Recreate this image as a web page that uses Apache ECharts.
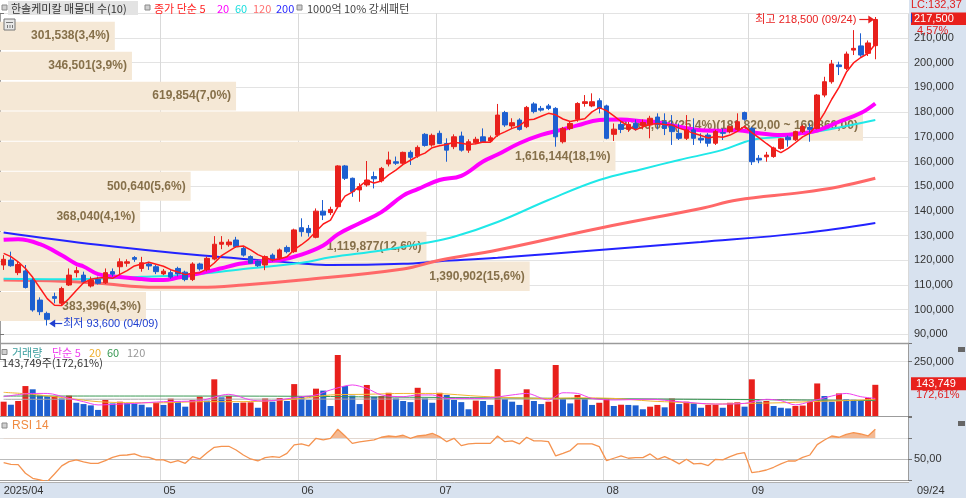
<!DOCTYPE html>
<html><head><meta charset="utf-8">
<script src="https://cdn.jsdelivr.net/npm/echarts@6/dist/echarts.min.js"></script>
<style>html,body{margin:0;padding:0;background:#fff;overflow:hidden}#c{width:966px;height:498px}</style>
</head><body><div id="c"></div>
<script>
// ---------------- DATA ----------------
const yearText = '2025';
const dates = ['04/01','04/02','04/03','04/04','04/07','04/08','04/09','04/10','04/11','04/14','04/15','04/16','04/17','04/18','04/21','04/22','04/23','04/24','04/25','04/28','04/29','04/30',
'05/02','05/07','05/08','05/09','05/12','05/13','05/14','05/15','05/16','05/19','05/20','05/21','05/22','05/23','05/26','05/27','05/28','05/29','05/30',
'06/02','06/04','06/05','06/09','06/10','06/11','06/12','06/13','06/16','06/17','06/18','06/19','06/20','06/23','06/24','06/25','06/26','06/27','06/30',
'07/01','07/02','07/03','07/04','07/07','07/08','07/09','07/10','07/11','07/14','07/15','07/16','07/17','07/18','07/21','07/22','07/23','07/24','07/25','07/28','07/29','07/30','07/31',
'08/01','08/04','08/05','08/06','08/07','08/08','08/11','08/12','08/13','08/14','08/18','08/19','08/20','08/21','08/22','08/25','08/26','08/27','08/28','08/29',
'09/01','09/02','09/03','09/04','09/05','09/08','09/09','09/10','09/11','09/12','09/15','09/16','09/17','09/18','09/19','09/22','09/23','09/24'];
const emptySlots = ['+1','+2','+3','+4'];

const opens = [
118100,120100,115000,115700,112000,103900,98500,105300,102600,110000,
115000,114000,109600,112300,110900,115400,117400,118800,121100,116700,
118500,117400,114500,115000,116700,115200,112200,118500,116200,120500,
126500,126300,128200,124800,121500,119700,118100,122100,120800,125200,
123500,133200,132900,129300,139900,139300,141700,158200,153200,148500,
150500,153900,152200,159000,159900,159300,163700,162200,171000,166700,
171400,167300,166000,170300,164600,167600,170000,168300,170700,179800,
174400,176800,174100,183300,181500,182500,181500,168000,173400,177100,
183500,182500,184600,182500,171000,175000,173000,175500,174500,174800,
178000,176100,174800,171400,169400,172800,169400,170700,167400,171700,
172100,173000,179800,173400,161300,161900,162000,165300,169800,168800,
172100,173800,173400,186900,192300,199100,197700,205100,206800,203800,206900];
const highs = [
122100,123500,119400,118100,112700,105000,99200,106900,109300,116700,
117400,115400,113400,113400,116700,116700,120800,120400,121700,121400,
119400,118100,116500,116000,117400,115800,119200,119000,121500,129800,
129800,128500,129500,125500,122000,120000,122000,122800,124800,126000,
132800,137000,134300,141000,144400,141700,158500,158600,153500,151200,
160200,155900,157800,164000,162000,164000,164500,166500,171500,171300,
172500,169400,171000,172100,169000,170000,173400,170500,183300,180500,
177500,177500,182500,184000,182500,183300,182000,174000,176100,184000,
186900,187600,185600,183000,175400,176500,176000,177000,177000,178500,
179500,179500,178800,175400,178800,177500,171400,171500,172800,173400,
174500,179500,180200,174000,162600,163900,166000,169500,170500,172500,
174800,175400,187300,194300,201100,200400,204500,213200,211900,209000,218500];
const lows = [
116100,117400,114000,108600,99200,97800,93600,102600,101900,109600,
113100,110700,109000,110200,110400,113400,114000,117400,119400,115400,
116100,114400,114000,112500,113500,111500,111600,115800,115500,120000,
124500,125500,125000,121500,118500,117300,116000,119500,120300,122800,
123000,129600,129600,128900,136300,138300,141000,152500,145700,143700,
149800,149100,151500,158000,158600,158600,158600,161500,166000,166000,
167000,159900,165000,164000,163500,167000,167500,167800,170000,174000,
173400,172500,173500,179500,180200,180800,166000,167300,172700,176100,
182200,182000,179500,169000,168300,171500,172000,172500,173000,169400,
173000,170700,166700,168700,168700,166700,167400,166000,166700,168700,
171400,172500,176500,158600,159300,159900,161500,164800,166000,168300,
171500,168000,173000,186000,191500,195000,197000,203100,202400,202700,201400];
const closes = [
120400,117800,118300,109000,99900,99200,96100,104600,108600,114000,
115800,111300,112000,110700,115000,114400,119400,119400,120400,119000,
117700,115400,115600,113200,114500,112200,118500,116500,120800,126500,
127300,127400,125500,122100,118800,117800,121500,120100,124200,123500,
132300,131600,131200,139900,138300,140600,158200,153200,147800,149800,
152500,153000,157200,160600,159300,163700,161700,165700,166500,170600,
167300,164600,170000,164600,168000,169000,168000,169600,178800,174800,
175700,173000,181900,180200,180800,181500,170000,173400,175400,183500,
184200,184200,181500,169400,173100,173000,175000,173500,175800,177500,
175000,173400,172100,169400,172800,169400,168700,167400,172100,171400,
174100,176100,177100,159900,160600,162600,165500,169200,168800,172100,
174200,173000,186900,192300,199500,198400,203500,205800,203100,208000,217500];

const volumes = [
66000,52000,69000,138000,123000,95000,90000,92000,81000,94000,
61000,55000,49000,28000,74000,58000,66000,60000,57000,52000,
40000,61000,51000,80000,66000,43000,74000,89000,71000,169000,
86000,92000,60000,62000,63000,38000,81000,66000,83000,69000,
147000,89000,74000,126000,117000,46000,281000,138000,94000,55000,
143000,89000,92000,107000,81000,69000,64000,130000,81000,61000,
107000,97000,74000,64000,31000,71000,69000,51000,216000,78000,
66000,51000,123000,69000,55000,66000,235000,81000,58000,97000,
81000,51000,61000,81000,46000,52000,51000,49000,31000,43000,
51000,40000,81000,55000,66000,58000,38000,51000,52000,38000,
61000,63000,43000,169000,66000,69000,46000,38000,35000,46000,
48000,66000,150000,92000,66000,104000,77000,75000,72000,83300,143749];

const rsi14 = [
46.8,45.2,44.9,36.7,31.9,30.3,28.7,36.0,43.7,47.8,
49.4,47.5,46.2,46.2,48.7,51.9,53.8,54.1,55.1,52.5,
51.9,49.4,49.4,46.8,48.7,46.2,52.5,50.3,56.3,61.4,
62.4,62.4,58.9,54.1,50.3,48.4,51.6,52.5,51.9,55.7,
63.7,64.6,62.7,70.0,68.4,70.0,78.6,72.2,65.2,66.5,
67.5,68.4,71.0,72.2,71.6,72.9,70.0,72.2,72.9,74.8,
71.6,66.8,70.0,63.0,64.6,65.2,65.2,65.2,72.2,66.8,
67.5,64.6,71.0,67.5,67.5,66.8,53.2,55.7,58.3,64.6,
64.6,64.6,62.1,48.7,51.0,53.2,51.0,51.6,51.6,55.1,
50.0,52.5,49.4,45.6,50.0,45.6,46.2,44.0,50.0,49.4,
52.5,55.1,56.3,37.3,38.3,39.8,42.4,45.6,48.4,48.4,
51.9,54.1,64.0,68.4,72.2,71.0,73.8,75.4,74.1,72.2,78.6];
const rsiLevels = [30, 50, 70, 90];

const ma5 = [
122800,121500,119400,116700,113100,108800,104500,101800,101700,104500,
107800,110900,112300,112800,113000,112700,114300,115800,117700,118500,
119200,118400,117600,116200,115300,114200,114800,115000,116500,118900,
121900,123700,125500,125800,124200,122300,121100,120100,120500,121400,
124300,126300,128600,131700,134700,136300,141600,146000,147600,149900,
152300,151300,152100,154600,156500,158800,160500,162200,163400,165600,
166400,166900,167800,167400,166900,167200,167900,167800,170700,172000,
173400,174400,176800,177100,178300,179500,178900,177200,176200,176800,
177300,180100,181800,180600,178500,176200,174400,172800,174100,175000,
175400,175000,174800,173500,172500,171400,170500,169500,170100,169800,
170700,172200,174200,171700,169600,167300,165100,163600,165300,167600,
170000,171500,175000,179700,185200,190000,196100,199900,202100,203800,207600];
// [candle index, value] points
const ma20Pts = [[0,128300],[2,128500],[5,126500],[8,122000],[10,118500],[11,117500],[13,114400],[16,113200],[19,112400],[21,112000],[22,112000],[24,113000],[27,114700],[30,116800],[32,118300],[33,118800],[35,119400],[38,120100],[41,122300],[44,126000],[46,130500],[49,135000],[52,139500],[55,146200],[57,148800],[60,152500],[63,154200],[66,160000],[68,162800],[71,167400],[74,170800],[77,173000],[79,174600],[82,176800],[85,177000],[88,176300],[90,175900],[93,174100],[96,172700],[99,172500],[101,172700],[104,171400],[107,170700],[110,171500],[112,172500],[115,176100],[118,179600],[120,183500]];
const ma60Pts = [[0,112500],[8,112300],[19,113300],[27,114500],[33,116500],[41,119000],[45,121200],[52,124000],[58,127000],[62,129500],[68,135500],[75,144400],[82,152500],[88,157000],[93,160600],[99,164700],[103,168700],[107,170000],[112,172100],[120,176800]];
const ma120Pts = [[0,112000],[8,111500],[13,110700],[21,109100],[27,109100],[33,110000],[41,112000],[55,116500],[60,120000],[68,124200],[82,133000],[96,141000],[101,144400],[110,147500],[115,149800],[120,153200]];
const ma200Pts = [[0,131300],[13,126300],[27,122000],[37,119700],[41,118700],[45,118100],[55,118600],[60,119600],[68,121000],[82,124200],[96,127400],[110,131000],[120,135100]];

const volMa5Pts = [[0,89000],[4,104000],[6,104000],[9,81000],[11,66000],[13,51000],[16,55000],[18,58000],[22,66000],[27,71000],[31,100000],[34,74000],[36,69000],[41,89000],[43,97000],[45,120000],[48,143000],[50,127000],[52,97000],[55,89000],[57,97000],[59,97000],[61,81000],[66,81000],[70,97000],[72,104000],[75,74000],[77,107000],[79,104000],[81,81000],[84,74000],[89,77000],[93,66000],[98,55000],[102,58000],[105,77000],[107,71000],[109,51000],[111,66000],[114,92000],[116,104000],[118,89000],[120,81000]];
const volMa20Pts = [[0,109000],[4,100000],[9,81000],[13,66000],[18,61000],[22,61000],[27,66000],[32,66000],[36,69000],[41,81000],[45,97000],[50,100000],[55,104000],[59,104000],[66,90000],[75,81000],[79,84000],[84,81000],[89,69000],[93,63000],[98,55000],[102,58000],[107,61000],[111,66000],[116,71000],[120,77000]];
const volMa60Pts = [[0,92000],[20,92000],[40,91000],[50,88000],[66,84000],[90,78000],[105,75000],[120,71000]];
const volMa120Pts = [[0,77000],[60,78000],[90,78000],[120,72000]];

// volume-profile bands (매물대), top to bottom
const bandHigh = [216600,204400,192300,180200,168000,155900,143700,131600,119500,107200];
const bandLow  = [205100,193000,180600,168400,156300,144100,131900,119700,107600,95400];
const bandVol  = [301538,346501,619854,2266050,1616144,500640,368040,1119877,1390902,383396];
const bandPct  = ['3,4','3,9','7,0','25,4','18,1','5,6','4,1','12,6','15,6','4,3'];
const bandRangeText = '(181,820,00 ~ 169,860,00)';

const titleText = '한솔케미칼 매물대 수(10)';
const maLegend = [['종가 단순 5','#ff2020'],['20','#ff00ff'],['60','#19dede'],['120','#ff7070'],['200','#2a2aff']];
const patternText = '1000억 10% 강세패턴';
const volLegend = [['거래량','#3a9e9e'],['단순 5','#f040f0'],['20','#f0b030'],['60','#3a9a55'],['120','#999999']];
const lcText = 'LC:132,37';
const changeText = '4,57%';
const volRatioText = '172,61%';
const hiText = '최고 218,500 (09/24)';
const loText = '최저 93,600 (04/09)';
const rsiLegend = 'RSI 14';

// ---------------- STYLE ----------------
const RED = '#e8201c', BLUE = '#1d5fd0';
const NUM = "'Liberation Sans',Arial,sans-serif";
const NUMKR = "'Liberation Sans','Noto Sans CJK KR',sans-serif";
const KR = "'Noto Sans CJK KR','Liberation Sans',sans-serif";
const BAND_FILL = '#f5e8d6', BAND_TEXT = '#86704a';
const fmt = n => String(Math.round(n)).replace(/\B(?=(\d{3})+(?!\d))/g, ',');

const cats = dates.concat(emptySlots);
const monthStarts = [];
dates.forEach((d, i) => { if (i === 0 || d.slice(0, 2) !== dates[i - 1].slice(0, 2)) monthStarts.push(i); });
const isMonth = i => monthStarts.indexOf(i) >= 0;
const maxBand = Math.max.apply(null, bandVol);

const L = 0, R = 58;
function catAxis(gridIndex, labels, hidden) {
  return {
    type: 'category', gridIndex, data: cats, boundaryGap: true, show: !hidden,
    axisLine: { show: gridIndex === 1 || gridIndex === 2, lineStyle: { color: '#9c9c9c', width: 1 } },
    axisTick: { show: false },
    axisLabel: labels ? {
      show: true, interval: (i) => isMonth(i),
      formatter: (v, i) => i === 0 ? yearText + '/' + v.slice(0, 2) : v.slice(0, 2),
      align: 'left', color: '#333', fontSize: 11, fontFamily: NUM, margin: 5
    } : { show: false },
    splitLine: { show: true, interval: (i) => isMonth(i) && i > 0, lineStyle: { color: '#d9d9d9' } }
  };
}
const yLabelBase = { color: '#333', fontSize: 11, fontFamily: NUM, margin: 6 };

const series = [];
series.push({
  type: 'custom', name: 'bands', xAxisIndex: 1, yAxisIndex: 0, z: 1, silent: true,
  data: bandVol.map((v, i) => [v, bandHigh[i], bandLow[i]]),
  encode: { x: 0, y: [1, 2] },
  renderItem: function (params, api) {
    const i = params.dataIndex;
    const p0 = api.coord([0, bandHigh[i]]);
    const p1 = api.coord([bandVol[i], bandLow[i]]);
    const txt = fmt(bandVol[i]) + '(' + bandPct[i] + '%)' + (bandVol[i] === maxBand ? bandRangeText : '');
    return { type: 'group', children: [
      { type: 'rect', shape: { x: p0[0], y: p0[1], width: p1[0] - p0[0], height: p1[1] - p0[1] }, style: { fill: BAND_FILL } },
      { type: 'text', style: { text: txt, x: p1[0] - 5, y: (p0[1] + p1[1]) / 2, fill: BAND_TEXT,
        font: "bold 12px 'Liberation Sans',Arial,sans-serif", textAlign: 'right', align: 'right', textVerticalAlign: 'middle', verticalAlign: 'middle' } }
    ] };
  }
});
function maLine(data, color, width, z, smooth) {
  return { type: 'line', xAxisIndex: 0, yAxisIndex: 0, data, smooth: smooth, showSymbol: false, symbol: 'none', z,
    lineStyle: { color, width }, silent: true };
}
series.push(maLine(ma200Pts, '#2323ff', 2, 2, 0.4));
series.push(maLine(ma120Pts, '#ff6868', 3, 2, 0.4));
series.push(maLine(ma60Pts, '#1fe8e8', 2, 2, 0.4));
series.push(maLine(ma20Pts, '#ff00ff', 4, 3, 0.4));
series.push({
  type: 'candlestick', xAxisIndex: 0, yAxisIndex: 0, z: 4, barWidth: 5,
  data: dates.map((d, i) => [opens[i], closes[i], lows[i], highs[i]]),
  itemStyle: { color: RED, color0: BLUE, borderColor: RED, borderColor0: BLUE, borderWidth: 1 }
});
series.push(maLine(ma5, '#ff1a1a', 1.5, 5, false));
series.push({
  type: 'bar', xAxisIndex: 2, yAxisIndex: 1, data: volumes, barWidth: 6, z: 2,
  itemStyle: { color: (p) => (p.dataIndex === 0 || volumes[p.dataIndex] >= volumes[p.dataIndex - 1]) ? RED : BLUE }
});
function volLine(data, color) {
  return { type: 'line', xAxisIndex: 2, yAxisIndex: 1, data, smooth: 0.3, showSymbol: false, symbol: 'none', z: 3,
    lineStyle: { color, width: 1 }, silent: true };
}
series.push(volLine(volMa120Pts, '#a8a8a8'));
series.push(volLine(volMa60Pts, '#3a9a55'));
series.push(volLine(volMa20Pts, '#f2b530'));
series.push(volLine(volMa5Pts, '#f040f0'));
// RSI fill above 70: same values drawn in a grid whose floor is 70, so the part below is clipped
series.push({
  type: 'line', xAxisIndex: 4, yAxisIndex: 3, data: rsi14, showSymbol: false, symbol: 'none', z: 2, clip: true,
  lineStyle: { width: 0, opacity: 0 }, areaStyle: { origin: 'start', color: '#f3b288', opacity: 0.9 }, silent: true
});
series.push({
  type: 'line', xAxisIndex: 3, yAxisIndex: 2, data: rsi14, showSymbol: false, symbol: 'none', z: 3,
  lineStyle: { color: '#f5934f', width: 1.3 }, silent: true
});

const option = {
  animation: false,
  backgroundColor: '#ffffff',
  grid: [
    { left: L, right: R, top: 13.3, height: 345.8 },
    { left: L, right: R, top: 343.3, height: 72.7 },
    { left: L, right: R, top: 417.3, height: 63 },
    { left: L, right: R, top: 417.3, height: 21 }
  ],
  xAxis: [
    catAxis(0, false),
    { type: 'value', gridIndex: 0, position: 'top', min: 0, max: maxBand / 0.9504, show: false },
    catAxis(1, false),
    catAxis(2, true),
    catAxis(3, false, true)
  ],
  yAxis: [
    { type: 'value', gridIndex: 0, position: 'right', min: 80000, max: 220000, interval: 10000,
      axisLine: { show: true, lineStyle: { color: '#9c9c9c' } },
      axisTick: { show: true, length: 4, lineStyle: { color: '#777' } },
      axisLabel: Object.assign({ formatter: v => (v < 90000 || v > 210000) ? '' : fmt(v) }, yLabelBase),
      splitLine: { show: true, showMinLine: false, lineStyle: { color: '#e3e3e3' } } },
    { type: 'value', gridIndex: 1, position: 'right', min: 0, max: 335000, interval: 250000,
      axisLine: { show: true, lineStyle: { color: '#9c9c9c' } },
      axisTick: { show: true, length: 4, lineStyle: { color: '#777' } },
      axisLabel: Object.assign({ formatter: v => v === 250000 ? fmt(v) : '' }, yLabelBase),
      splitLine: { show: true, showMinLine: false, showMaxLine: false, lineStyle: { color: '#e3e3e3' } } },
    { type: 'value', gridIndex: 2, position: 'right', min: rsiLevels[0], max: rsiLevels[3], interval: 20,
      axisLine: { show: true, lineStyle: { color: '#9c9c9c' } },
      axisTick: { show: true, length: 4, lineStyle: { color: '#777' } },
      axisLabel: Object.assign({ formatter: v => v === rsiLevels[1] ? '50,00' : '' }, yLabelBase),
      splitLine: { show: true, showMinLine: false, showMaxLine: false, lineStyle: { color: ['#bbbbbb', '#e0e0e0', '#8f8f8f', '#cccccc'] } } },
    { type: 'value', gridIndex: 3, position: 'right', min: rsiLevels[2], max: rsiLevels[3], show: false }
  ],
  series
};

const chart = echarts.init(document.getElementById('c'));
chart.setOption(option);

// ---------------- overlay texts / decorations ----------------
const G = [];
function T(x, y, text, fill, font, align) {
  G.push({ type: 'text', x: x, y: y, z: 100, silent: true,
    style: { text, fill, font, textAlign: align || 'left', align: align || 'left', textVerticalAlign: 'middle', verticalAlign: 'middle' } });
}
function Rc(x, y, w, h, fill, z, stroke) {
  G.push({ type: 'rect', z: z, silent: true, shape: { x, y, width: w, height: h }, style: { fill, stroke: stroke || null, lineWidth: stroke ? 1 : 0 } });
}
function Ln(x1, y1, x2, y2, color, w, z) {
  G.push({ type: 'line', z: z || 50, silent: true, shape: { x1, y1, x2, y2 }, style: { stroke: color, lineWidth: w || 1 } });
}
function Pg(points, fill) { G.push({ type: 'polygon', z: 100, silent: true, shape: { points }, style: { fill } }); }
const SQ = (x, y) => Rc(x, y, 5, 5, '#d0d0d0', 60, '#8a8a8a');
function toPx(xAxisIndex, yAxisIndex, xv, yv) {
  try { return chart.convertToPixel({ xAxisIndex, yAxisIndex }, [xv, yv]); } catch (e) { return null; }
}

try {
// background strips (axis areas)
Rc(909, 0, 57, 498, '#d8e2ef', -10);
Rc(0, 482, 966, 16, '#d8e2ef', -10);
Ln(0, 343.5, 909, 343.5, '#9a9a9a', 1.5, 50);
Ln(0, 482.5, 909, 482.5, '#b0b0b0', 1, 50);

// legend row
SQ(2, 5);
Rc(8, 1, 130, 14, '#e3e3e3', 40);
T(11, 8.5, titleText, '#333', '11px ' + KR);
SQ(145, 5);
const lgx = [154, 217, 235, 253, 276];
maLegend.forEach((m, k) => T(lgx[k], 8.5, m[0], m[1], '11px ' + KR));
SQ(297, 5);
T(307, 8.5, patternText, '#444', '11px ' + KR);
Rc(4, 19, 11, 11, '#e8e8e8', 60, '#777');
Ln(6, 22.5, 13, 22.5, '#777', 1, 61); Ln(7.5, 25, 7.5, 28, '#777', 1, 61); Ln(10, 25, 10, 28, '#777', 1, 61); Ln(12.5, 25, 12.5, 28, '#777', 1, 61);

// high / low annotations
const hiIdx = highs.indexOf(Math.max.apply(null, highs));
const loIdx = lows.indexOf(Math.min.apply(null, lows));
const hp = toPx(0, 0, hiIdx, highs[hiIdx]);
const lp = toPx(0, 0, loIdx, lows[loIdx]);
if (hp) {
  T(hp[0] - 19, hp[1] + 2.5, hiText, '#e82020', '11px ' + NUMKR, 'right');
  Ln(hp[0] - 16, hp[1] + 2.5, hp[0] - 6, hp[1] + 2.5, '#e82020', 1.2, 100);
  Pg([[hp[0] - 7, hp[1] - 1.5], [hp[0] - 1, hp[1] + 2.5], [hp[0] - 7, hp[1] + 6.5]], '#e82020');
}
if (lp) {
  Pg([[lp[0] + 2, lp[1] - 2], [lp[0] + 8, lp[1] - 6], [lp[0] + 8, lp[1] + 2]], '#2040d0');
  Ln(lp[0] + 7, lp[1] - 2, lp[0] + 15, lp[1] - 2, '#2040d0', 1.2, 100);
  T(lp[0] + 16, lp[1] - 2, loText, '#2040d0', '11px ' + NUMKR);
}

// right-side price tags
const lastI = closes.length - 1;
const pp = toPx(0, 0, lastI, closes[lastI]);
const py = pp ? pp[1] : 19.5;
T(911, 5, lcText, '#e02020', '11px ' + NUM);
Rc(911, py - 7, 55, 12.5, RED, 90);
T(914, py - 0.5, fmt(closes[lastI]), '#ffffff', '11px ' + NUM);
T(917, py + 11, changeText, '#e02020', '11px ' + NUM);
Ln(911.5, py - 6, 911.5, py + 3, '#2040d0', 1, 95);

// volume panel texts
SQ(2, 349.5);
const vlx = [12, 52, 89, 107, 127];
volLegend.forEach((m, k) => T(vlx[k], 352.5, m[0], m[1], '11px ' + KR));
T(2, 363, fmt(volumes[lastI]) + '주(' + volRatioText + ')', '#333', '11px ' + KR);
const vp = toPx(2, 1, lastI, volumes[lastI]);
const vy = vp ? vp[1] : 384;
Rc(911, vy - 7.5, 55, 13, RED, 90);
T(916, vy - 1, fmt(volumes[lastI]), '#ffffff', '11px ' + NUM);
T(916, vy + 10, volRatioText, '#e02020', '11px ' + NUM);
Rc(958, 347, 7, 5, '#666', 90);

// RSI panel texts
SQ(2, 423);
T(12, 425.5, rsiLegend, '#f08a40', '12px ' + NUM);
Rc(958, 421, 7, 5, '#666', 90);

// bottom right date
T(917, 490.5, dates[lastI], '#333', '11px ' + NUM);
} catch (e) { console.log('overlay error', e); }

chart.setOption({ graphic: { elements: G } });
</script></body></html>
